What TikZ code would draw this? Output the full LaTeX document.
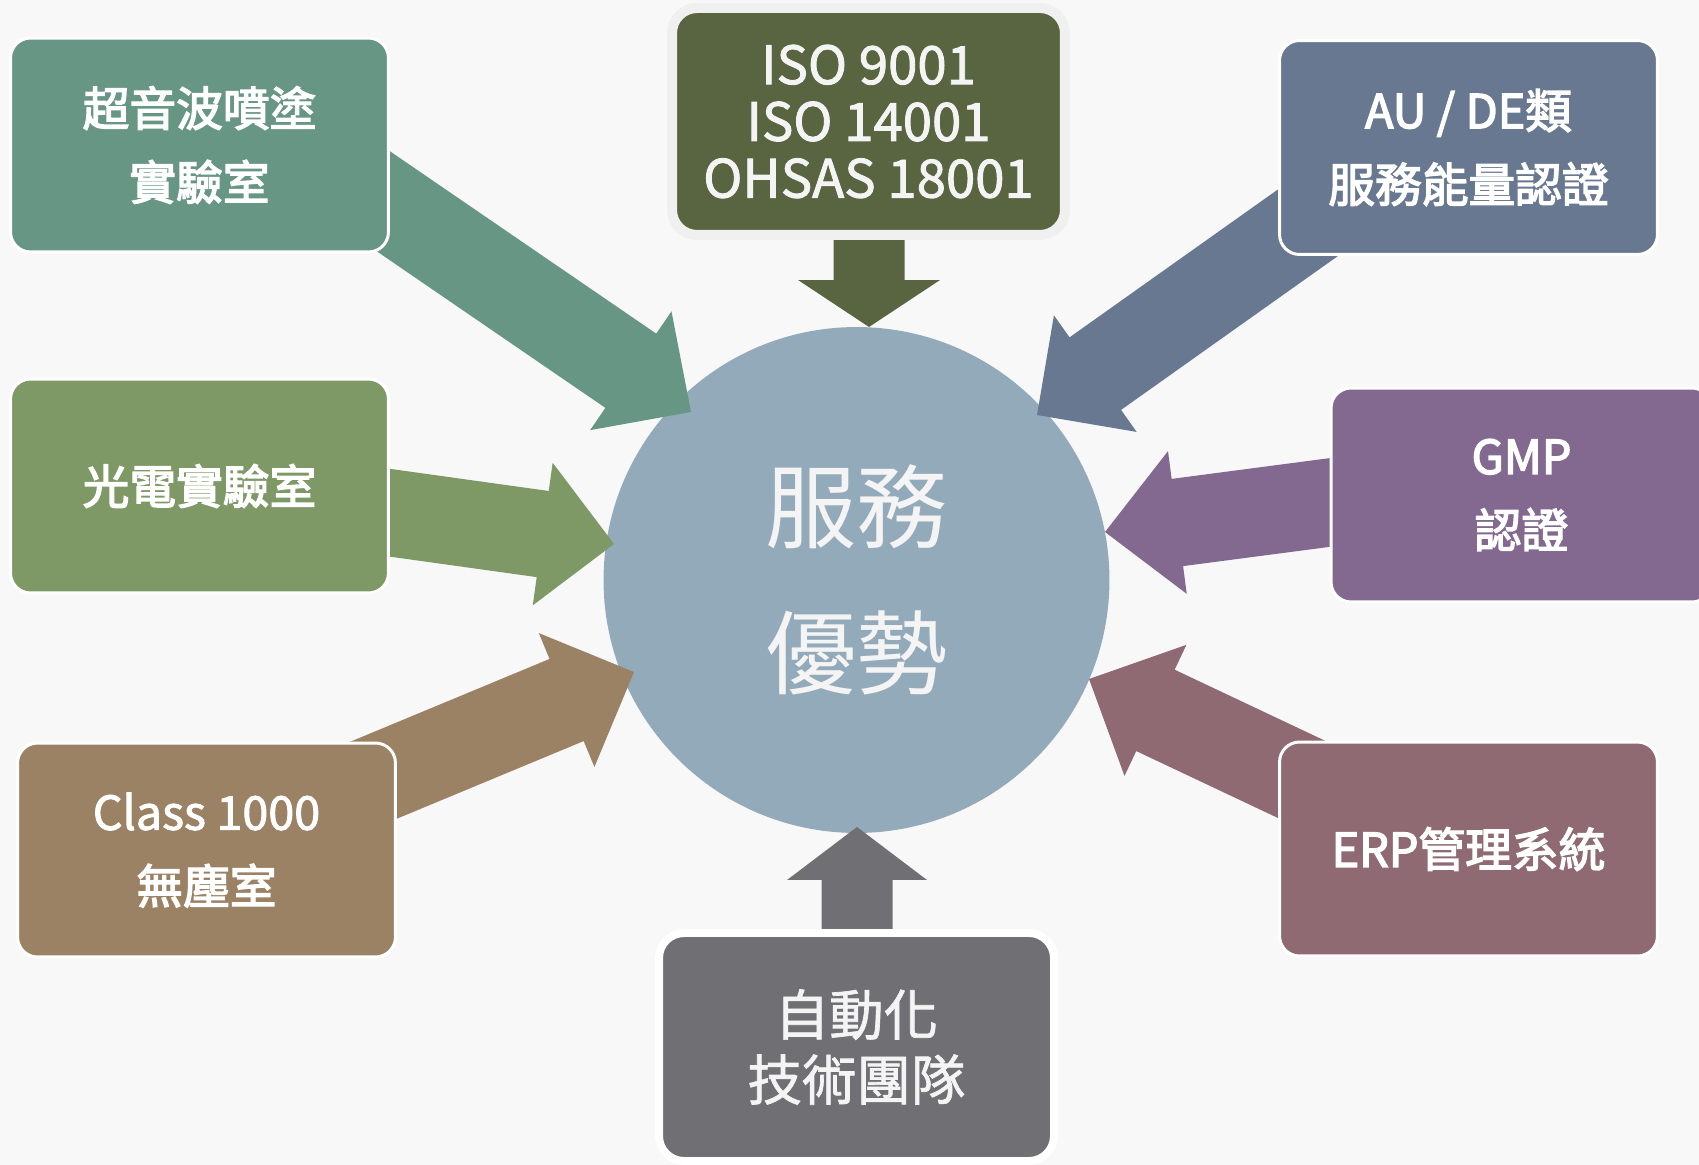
\documentclass[tikz,border=0pt]{standalone}
\usepackage{fontspec}
\newfontfamily\cjk{Noto Sans CJK TC}
\newcommand\heavier[1]{\special{pdf:literal direct 2 Tr #1 w}}
\usetikzlibrary{calc,shadows}
\definecolor{bgc}{HTML}{F8F8F8}
\definecolor{cA}{HTML}{679685}
\definecolor{cB}{HTML}{7E9966}
\definecolor{cC}{HTML}{9C8265}
\definecolor{cD}{HTML}{596440}
\definecolor{cE}{HTML}{687891}
\definecolor{cF}{HTML}{83698F}
\definecolor{cG}{HTML}{8F6A72}
\definecolor{cH}{HTML}{706F74}
\definecolor{cCirc}{HTML}{93AABB}
\definecolor{isoborder}{HTML}{F0F0F0}
\definecolor{txtlight}{HTML}{F4F4F4}
\newcommand\myblockarrow[6]{%
  \path ($(#3)!#6!(#2)$) coordinate (hb);
  \fill[#1] ($(#2)!#4!90:(#3)$) -- ($(hb)!#4!90:(#3)$) -- ($(hb)!#5!90:(#3)$) -- (#3)
    -- ($(hb)!#5!-90:(#3)$) -- ($(hb)!#4!-90:(#3)$) -- ($(#2)!#4!-90:(#3)$) -- cycle;
}
\begin{document}
\begin{tikzpicture}[x=0.02cm,y=-0.02cm,
  boxstyle/.style={rounded corners=0.4cm, draw=white, line width=1.7pt, inner sep=0pt,
    minimum width=7.56cm, minimum height=4.28cm, align=center, text=white},
  boxtext/.style={font=\cjk\fontsize{26.6}{42}\selectfont},
]
\useasboundingbox (0,0) rectangle (1699,1165);
\fill[bgc] (0,0) rectangle (1699,1165);

% centre circle
\node[circle, fill=cCirc, minimum size=10.12cm, inner sep=0pt] (c) at (856.5,580) {};

% arrow end points
\coordinate (s1) at (345,175);  \coordinate (t1) at (691,412);
\coordinate (s2) at (356,508);  \coordinate (t2) at (614,544);
\coordinate (s3) at (338,795);  \coordinate (t3) at (634,672);
\coordinate (s4) at (869,150);  \coordinate (t4) at (869,327);
\coordinate (s5) at (1347,195); \coordinate (t5) at (1037,415);
\coordinate (s6) at (1402,493); \coordinate (t6) at (1105,532);
\coordinate (s7) at (1360,807); \coordinate (t7) at (1089,679);
\coordinate (s8) at (857,1000); \coordinate (t8) at (857,827);

\myblockarrow{cA}{s1}{t1}{0.9cm}{1.44cm}{1.46cm}
\myblockarrow{cB}{s2}{t2}{0.87cm}{1.44cm}{1.44cm}
\myblockarrow{cC}{s3}{t3}{0.89cm}{1.45cm}{1.46cm}
\myblockarrow{cD}{s4}{t4}{0.71cm}{1.42cm}{0.94cm}
\myblockarrow{cE}{s5}{t5}{0.89cm}{1.43cm}{1.43cm}
\myblockarrow{cF}{s6}{t6}{0.88cm}{1.44cm}{1.46cm}
\myblockarrow{cG}{s7}{t7}{0.9cm}{1.45cm}{1.47cm}
\myblockarrow{cH}{s8}{t8}{0.71cm}{1.4cm}{1.06cm}

% boxes
\node[boxstyle, fill=cA, boxtext] (b1) at (199.5,145) {\heavier{0.8}超音波噴塗\\\heavier{0.8}實驗室};
\node[boxstyle, fill=cB, boxtext] (b2) at (199.5,486) {\heavier{0.8}光電實驗室};
\node[boxstyle, fill=cC, boxtext] (b3) at (206.5,850) {\heavier{0.5}Class 1000\\\heavier{0.8}無塵室};
\node[boxstyle, fill=cE, boxtext] (b5) at (1468.5,147.5) {\heavier{0.8}AU / DE類\\\heavier{0.8}服務能量認證};
\node[boxstyle, fill=cF, boxtext, minimum width=7.62cm] (b6) at (1521.5,495) {\heavier{0.8}GMP\\\heavier{0.8}認證};
\node[boxstyle, fill=cG, boxtext] (b7) at (1468.5,849) {\heavier{0.8}ERP管理系統};

\node[rounded corners=0.5cm, draw=isoborder, line width=5.67pt, fill=cD, inner sep=0pt,
  minimum width=7.86cm, minimum height=4.54cm, align=center, text=txtlight,
  font=\cjk\fontsize{30}{32.3}\selectfont] (b4) at (868.5,121.5)
  {\heavier{0.5}ISO 9001\\\heavier{0.5}ISO 14001\\\heavier{0.5}OHSAS 18001};

\node[rounded corners=0.5cm, draw=white, line width=4.5pt, fill=cH, inner sep=0pt,
  minimum width=7.9cm, minimum height=4.56cm, align=center, text=txtlight,
  drop shadow={shadow xshift=0pt, shadow yshift=-2pt, opacity=0.25},
  font=\cjk\fontsize{31}{37}\selectfont] (b8) at (856.5,1047) {\heavier{0.4}自動化\\\heavier{0.4}技術團隊};

% centre text
\node[align=center, text=txtlight, font=\cjk\fontsize{52}{83}\selectfont] (ct) at (c.center) {服務\\優勢};
\end{tikzpicture}
\end{document}
